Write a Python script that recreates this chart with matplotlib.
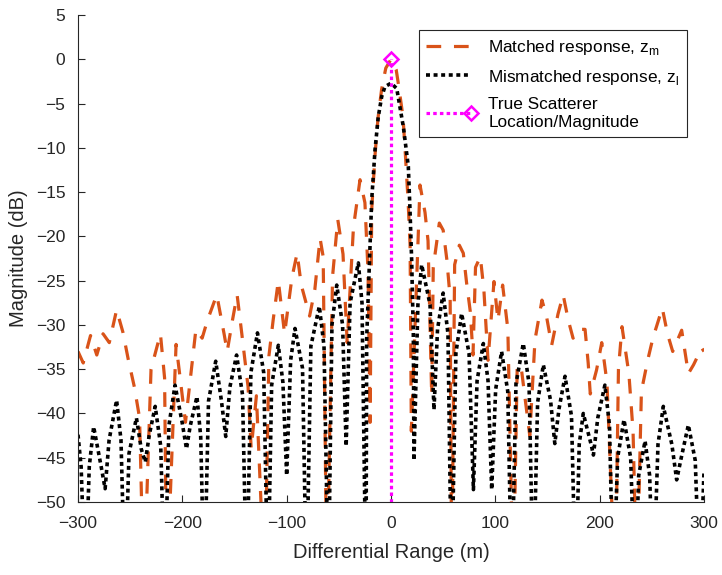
import numpy as np
import matplotlib.pyplot as plt
from matplotlib.legend_handler import HandlerLine2D

plt.rcParams['font.family'] = ['Liberation Sans', 'DejaVu Sans']
plt.rcParams['mathtext.fontset'] = 'custom'
plt.rcParams['mathtext.rm'] = 'Liberation Sans'

# matched response z_m, vertices (dB); values below -50 are clipped
match_x = [-300, -295, -288, -282, -276, -270, -263, -257, -252, -246, -241, -237, -230, -221, -217, -215,
           -206, -197, -187, -181, -176, -167, -160, -157, -152, -147.5, -143, -137, -134, -129, -121,
           -117, -113, -108, -102, -95, -90, -86, -78, -73, -68, -65, -61.5, -56, -51, -46, -42, -36,
           -29.7, -25, -22, -20, -18.5, -15.3, -12.5, -9, -5, 0,
           5, 6.7, 11.5, 13.4, 16.3, 18.3, 19.5, 27.8, 32.6, 35.5, 39, 40.5, 46.3, 50, 53.5, 56.7, 58.2,
           61, 65.5, 69.3, 72.5, 76, 78.6, 81, 85.6, 89, 93, 98.7, 102.5, 107, 112, 117.2, 121, 125, 133,
           138, 144.7, 149, 154, 160, 165, 170, 174.5, 180, 186, 189, 191, 197, 202, 207, 215, 218, 221.4,
           228, 232, 235.6, 240, 246, 251, 260, 265, 270, 278.6, 285, 290, 297.8, 300]
match_db = [-33.0, -34.3, -31.2, -33.4, -31.0, -32.0, -28.3, -30.8, -33.8, -37.0, -40.5, -60, -35, -31.0, -36, -60,
            -32.2, -41, -30.5, -31.5, -29.5, -26.6, -31.0, -33.0, -29.5, -26.6, -31.0, -37.0, -44, -38, -60,
            -33.5, -29.5, -25.0, -31.0, -24.7, -21.9, -25.5, -29.0, -26, -20.2, -22.3, -60, -24.5, -18.1, -22, -32, -19,
            -13.6, -16.2, -24, -41, -17, -10.8, -6.7, -3.4, -1.0, 0,
            -1.2, -2.5, -6.5, -10, -15.8, -21, -42, -14.2, -17.3, -20.5, -38, -23.5, -18.5, -19.3, -22.6, -27, -60,
            -23.2, -21, -21.9, -25.3, -28.5, -33.4, -23.5, -22.3, -26, -34, -25.1, -29.5, -25.5, -30.5, -60, -34.5, -35, -42.5,
            -31.7, -27.2, -29, -32.3, -28.8, -26.6, -29.5, -31.5, -30.5, -30.5, -34.3, -37.8, -35.1, -32, -36.5, -60, -35, -30.2,
            -35.5, -42, -60, -37.5, -34, -31.5, -28.1, -31, -33, -30.6, -35.5, -34.5, -32.6, -33]

# mismatched response z_l
mis_x = [-300, -297, -293, -289.2, -285, -277.8, -274, -270.2, -263, -258.8, -255, -251.1, -244, -239.4, -235.5,
         -231.8, -226, -220.7, -217, -212.8, -207, -200.2, -196, -192.6, -186, -182.4, -179, -174.9, -168, -162.5,
         -158.4, -154.4, -148, -142.3, -138.3, -134.3, -128, -122, -118, -114.4, -108, -103.6, -100, -96.2, -92,
         -84.8, -81, -76.8, -68.7, -64.2, -60, -56.6, -52, -46.4, -43, -39.2, -31.3, -27.8, -24,
         -23.3, -18.5, -17, -15.3, -12.2, -8.9, -5.8, 0, 5.5, 11.8, 16.6, 18.2, 19.8, 21.4, 22,
         25.8, 29.4, 37.4, 41.2, 44.6, 50, 54.6, 58, 62.2, 67.7, 74.8, 79, 82.5, 88.5, 93, 96.5, 100.3, 106, 111.9,
         115.7, 119.8, 126.8, 132.3, 136.4, 140.5, 146, 152.9, 157, 161, 166.8, 173, 177, 180.4, 184.3, 192, 194,
         198.2, 205, 209.4, 213, 217.2, 223.3, 229.7, 233.9, 237.4, 243.5, 247.9, 251.4, 255.9, 261, 269.2, 273.8,
         278.2, 285, 291.6, 296, 300]
mis_db = [-42.4, -46, -60, -46, -41.5, -46, -48.5, -43, -38.5, -43, -60, -44.5, -40.5, -44, -45.5,
          -42.5, -39.2, -43.7, -60, -41.3, -36.8, -41, -44, -41.5, -38.1, -42.6, -60, -38.6, -34.1, -38.6,
          -42.6, -37, -33.4, -37.9, -60, -35.4, -30.9, -35.4, -60, -36.8, -32.3, -36.5, -47, -34, -30.4,
          -34.9, -60, -32.4, -27.9, -32.4, -60, -30, -25.5, -30, -43.7, -27.5, -23.0, -27.5, -60,
          -31.5, -15.9, -13.2, -10.2, -6.5, -4.2, -3.1, -2.7, -3.3, -7.6, -12.1, -17, -22.7, -31, -45.3,
          -27.7, -23.2, -27.7, -39.6, -30.5, -26.4, -31, -60, -33.2, -28.7, -33.2, -48.6, -36.3, -32.1, -36.3, -48.6, -37.3, -33, -37.5,
          -60, -36.6, -32.1, -36.6, -60, -38.8, -34.5, -38.5, -43.4, -39.5, -35.8, -40.3, -60, -43.5, -40, -43.6, -44.7,
          -40.5, -36.8, -41.3, -60, -45, -40.7, -45, -60, -47, -43.1, -47, -60, -43.5, -39.2, -43.5, -47.5,
          -45, -41.3, -45.3, -60, -46.5]

# true scatterer
true_x = [0, 0]
true_db = [-60, 0]


class EndMarker(HandlerLine2D):
    def create_artists(self, legend, orig_handle, xdescent, ydescent, width, height, fontsize, trans):
        arts = super().create_artists(legend, orig_handle, xdescent, ydescent, width, height, fontsize, trans)
        arts[0].set_markevery([2])
        return arts


fig = plt.figure(figsize=(7.22, 5.75), dpi=100)
ax = fig.add_axes([78 / 722, 1 - 502 / 575, 626 / 722, 487 / 575])

ax.plot(match_x, match_db, color='#D95319', lw=2.3, dashes=(4.6, 4.0),
        label=r'Matched response, z$_{\mathrm{m}}$')
ax.plot(mis_x, mis_db, color='k', lw=2.6, dashes=(1.1, 1.0),
        label=r'Mismatched response, z$_{\mathrm{l}}$')
ax.plot(true_x, true_db, color='#FF00FF', lw=2.3, dashes=(1.1, 1.0), marker='D', markevery=[1],
        markersize=7, markerfacecolor='none', markeredgewidth=1.8,
        label='True Scatterer\nLocation/Magnitude')

ax.set_xlim(-300, 300)
ax.set_ylim(-50, 5)
ax.set_xticks(np.arange(-300, 301, 100))
ax.set_yticks(np.arange(-50, 6, 5))
ax.spines['top'].set_visible(False)
ax.spines['right'].set_visible(False)
for s in ['left', 'bottom']:
    ax.spines[s].set_color('#262626')
ax.tick_params(direction='in', length=5, colors='#262626', labelsize=12.5)
ax.tick_params(axis='x', pad=10)
ax.tick_params(axis='y', pad=9)
ax.set_xlabel('Differential Range (m)', fontsize=14.5, color='#262626', labelpad=9)
ax.set_ylabel('Magnitude (dB)', fontsize=14.5, color='#262626', labelpad=6)

lines = ax.get_lines()
leg = ax.legend(handles=lines, handler_map={lines[2]: EndMarker()}, loc='upper right',
                bbox_to_anchor=(0.973, 0.969), borderaxespad=0, fontsize=12.4, handlelength=2.6,
                handletextpad=1.0, labelspacing=0.62, borderpad=0.45, fancybox=False, framealpha=1)
leg.get_frame().set_edgecolor('#262626')
leg.get_frame().set_linewidth(0.8)

fig.savefig('out.png', dpi=100)
